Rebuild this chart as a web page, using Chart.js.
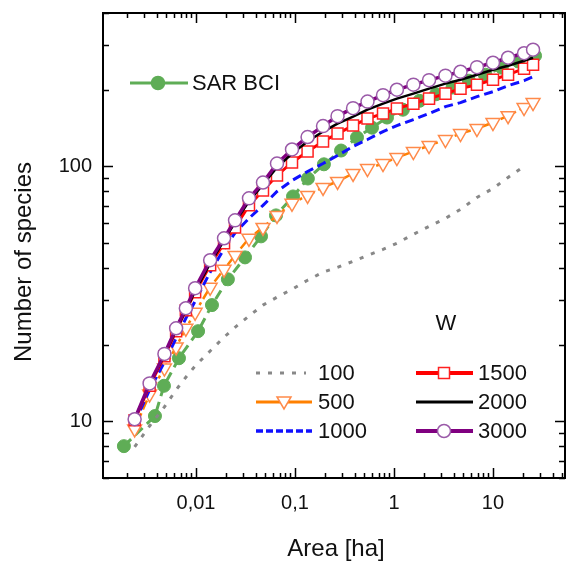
<!DOCTYPE html>
<html>
<head>
<meta charset="utf-8">
<script src="https://cdn.jsdelivr.net/npm/chart.js@4/dist/chart.umd.min.js"></script>
<style>
  html, body { margin: 0; padding: 0; background: #fff; }
  #wrap { width: 567px; height: 563px; }
</style>
</head>
<body>
<div id="wrap"><canvas id="sarChart" width="567" height="563"></canvas></div>
<script>
// plot areas (ha) shared by the model curves
const areaGrid = [0.0024, 0.0034, 0.0048, 0.0063, 0.0079, 0.0098, 0.0139, 0.0192, 0.0248, 0.0343,
                  0.0475, 0.0658, 0.0933, 0.134, 0.192, 0.269, 0.386, 0.54, 0.775, 1.07,
                  1.57, 2.26, 3.31, 4.7, 6.89, 10.0, 14.2, 20.6, 25.4];

// model curves, one per W value
const w100  = [7.95, 9.6, 11.4, 13.3, 14.9, 16.5, 18.9, 21.4, 23.4, 25.9, 28.6, 30.7, 33.0, 35.8, 38.5,
               40.2, 42.5, 44.8, 47.3, 50.0, 54.2, 58.2, 62.6, 67.9, 75.6, 82.0, 90.6, 100];
const w500  = [9.35, 12.8, 16.2, 19.6, 23.2, 26.8, 33.6, 39.5, 44.8, 52.3, 57.7, 64.3, 71.7, 77.0, 82.8,
               87.4, 93.9, 98.2, 102.7, 108.4, 114.5, 120.8, 127.6, 134.6, 140.8, 148.7, 158.3, 170.2, 178.1];
const w1000 = [9.87, 13.3, 17.1, 21.2, 25.4, 29.6, 38.5, 47.5, 54.9, 62.6, 70.4, 79.8, 88.1, 95.6, 102.7,
               110.4, 119.8, 127.6, 137.1, 144.7, 152.8, 161.3, 171.7, 178.1, 187.9, 196.6, 207.5, 217.1, 225.1];
const w1500 = [10.1, 13.8, 18.0, 22.6, 27.3, 32.1, 41.0, 50.0, 57.7, 70.4, 80.5, 92.2, 103.7, 114.5, 125.3,
               134.6, 144.7, 154.2, 161.3, 168.7, 176.4, 184.6, 193.1, 202.0, 209.4, 219.0, 229.1, 241.8, 250.8];
const w2000 = [10.2, 14.0, 18.2, 22.8, 27.3, 32.4, 41.7, 51.3, 60.4, 73.0, 85.0, 99.1, 112.4, 125.3, 137.1,
               147.3, 156.9, 167.2, 176.4, 184.6, 193.1, 202.0, 211.3, 219.0, 229.1, 239.7, 248.5, 260.0, 267.1];
const w3000 = [10.2, 14.1, 18.4, 23.2, 27.8, 33.3, 42.9, 52.3, 61.5, 75.0, 86.5, 102.7, 116.6, 130.5, 144,
               157.6, 169.4, 179.7, 190.5, 200.1, 209.4, 218.1, 227.1, 235.4, 245.2, 255.3, 267.1, 278.1, 287.1];

// observed species-area relation, BCI
const bciArea    = [0.00187, 0.00385, 0.00475, 0.00673, 0.0105, 0.0145, 0.021, 0.0313, 0.0454, 0.0643,
                    0.0955, 0.135, 0.196, 0.292, 0.423, 0.60, 0.85, 1.23, 1.81, 2.66,
                    3.9, 5.72, 8.4, 12.3, 18.1, 26.6];
const bciSpecies = [8.0, 10.5, 13.8, 17.7, 22.6, 28.6, 36.1, 44.0, 53.2, 64.3,
                    76.3, 89.7, 102, 115.5, 130, 142, 155.6, 167, 181, 192,
                    204, 217, 229, 244, 258, 272];

const xTickValues = [0.01, 0.1, 1, 10];
const yTickValues = [10, 100];

const FONT = '"Liberation Sans", Arial, sans-serif';

function pts(xs, ys) {
    return ys.map((y, i) => ({ x: xs[i], y: y }));
}

// small marker drawer for the hand made legend
function marker(ctx, style, x, y) {
    ctx.save();
    ctx.fillStyle = '#fff';
    ctx.lineWidth = 1.5;
    ctx.setLineDash([]);
    ctx.beginPath();
    if (style === 'circle') {
        ctx.strokeStyle = '#9a5aa8';
        ctx.arc(x, y, 6.5, 0, Math.PI * 2);
    } else if (style === 'rect') {
        ctx.strokeStyle = '#ff2020';
        ctx.rect(x - 5.5, y - 5.5, 11, 11);
    } else if (style === 'tri') {
        ctx.strokeStyle = '#ff8a4a';
        ctx.moveTo(x - 7, y - 5);
        ctx.lineTo(x + 7, y - 5);
        ctx.lineTo(x, y + 7);
        ctx.closePath();
    } else if (style === 'dot') {
        ctx.fillStyle = '#5fad56';
        ctx.strokeStyle = '#5fad56';
        ctx.arc(x, y, 6.5, 0, Math.PI * 2);
    }
    ctx.fill();
    ctx.stroke();
    ctx.restore();
}

function legendLine(ctx, x1, x2, y, color, width, dash) {
    ctx.save();
    ctx.strokeStyle = color;
    ctx.lineWidth = width;
    ctx.setLineDash(dash);
    ctx.beginPath();
    ctx.moveTo(x1, y);
    ctx.lineTo(x2, y);
    ctx.stroke();
    ctx.restore();
}

// frame with inward ticks on all four sides, axis titles and legend
const framePlugin = {
    id: 'frame',
    afterDraw(chart) {
        const ctx = chart.ctx;
        const a = chart.chartArea;
        const xs = chart.scales.x, ys = chart.scales.y;
        ctx.save();
        ctx.strokeStyle = '#000';
        ctx.lineWidth = 1.5;
        ctx.beginPath();
        for (let d = -3; d <= 1; d++) {
            for (let m = 1; m <= 9; m++) {
                const v = m * Math.pow(10, d);
                if (v < xs.min || v > xs.max) continue;
                const px = Math.round(xs.getPixelForValue(v)) + 0.5;
                const len = m === 1 ? 10 : 5;
                ctx.moveTo(px, a.bottom); ctx.lineTo(px, a.bottom - len);
                ctx.moveTo(px, a.top); ctx.lineTo(px, a.top + len);
            }
        }
        for (let d = 0; d <= 2; d++) {
            for (let m = 1; m <= 9; m++) {
                const v = m * Math.pow(10, d);
                if (v < ys.min || v > ys.max) continue;
                const py = Math.round(ys.getPixelForValue(v)) + 0.5;
                const len = m === 1 ? 10 : 6;
                ctx.moveTo(a.left, py); ctx.lineTo(a.left + len, py);
                ctx.moveTo(a.right, py); ctx.lineTo(a.right - len, py);
            }
        }
        ctx.stroke();
        ctx.lineWidth = 2;
        ctx.strokeRect(a.left, a.top, a.right - a.left, a.bottom - a.top);

        // axis titles
        ctx.fillStyle = '#111';
        ctx.font = '24px ' + FONT;
        ctx.textAlign = 'center';
        ctx.textBaseline = 'middle';
        ctx.fillText('Area [ha]', 336, 549);
        ctx.save();
        ctx.translate(24, 262);
        ctx.rotate(-Math.PI / 2);
        ctx.fillText('Number of species', 0, 0);
        ctx.restore();

        // legend: observed
        legendLine(ctx, 130, 188, 83, '#5fad56', 3, []);
        marker(ctx, 'dot', 158, 83);
        ctx.font = '22px ' + FONT;
        ctx.textAlign = 'left';
        ctx.fillStyle = '#111';
        ctx.fillText('SAR BCI', 192, 84);

        // legend: model
        ctx.textAlign = 'center';
        ctx.fillText('W', 446, 324);
        ctx.textAlign = 'left';
        const rows = [373, 402, 431];
        legendLine(ctx, 256, 306, rows[0], '#888', 3, [4, 8]);
        legendLine(ctx, 256, 312, rows[1], '#ff8000', 3, []);
        marker(ctx, 'tri', 284, rows[1]);
        legendLine(ctx, 256, 312, rows[2], '#1010ff', 3.5, [7, 3]);
        legendLine(ctx, 416, 473, rows[0], '#ff0000', 4, []);
        marker(ctx, 'rect', 444, rows[0]);
        legendLine(ctx, 416, 473, rows[1], '#000', 3, []);
        legendLine(ctx, 416, 473, rows[2], '#800080', 4, []);
        marker(ctx, 'circle', 444, rows[2]);
        ctx.fillStyle = '#111';
        ['100', '500', '1000'].forEach((t, i) => ctx.fillText(t, 318, rows[i] + 1));
        ['1500', '2000', '3000'].forEach((t, i) => ctx.fillText(t, 478, rows[i] + 1));
        ctx.restore();
    }
};

const ctx = document.getElementById('sarChart').getContext('2d');

const sarChart = new Chart(ctx, {
    type: 'line',
    data: {
        datasets: [
            {
                label: '3000', data: pts(areaGrid, w3000), order: 1,
                borderColor: '#800080', borderWidth: 3.5,
                pointStyle: 'circle', pointRadius: 6.5, pointBackgroundColor: '#fff',
                pointBorderColor: '#9a5aa8', pointBorderWidth: 1.5
            },
            {
                label: '2000', data: pts(areaGrid, w2000), order: 2,
                borderColor: '#000', borderWidth: 2.5, pointRadius: 0
            },
            {
                label: '1500', data: pts(areaGrid, w1500), order: 3,
                borderColor: '#ff0000', borderWidth: 3,
                pointStyle: 'rect', pointRadius: 7.8, pointBackgroundColor: '#fff',
                pointBorderColor: '#ff2020', pointBorderWidth: 1.5
            },
            {
                label: '1000', data: pts(areaGrid, w1000), order: 4,
                borderColor: '#1010ff', borderWidth: 3, borderDash: [9, 5], pointRadius: 0
            },
            {
                label: '500', data: pts(areaGrid, w500), order: 5,
                borderColor: '#ff8000', borderWidth: 2.5, borderDash: [10, 4, 3, 4],
                pointStyle: 'triangle', rotation: 180, pointRadius: 8, pointBackgroundColor: '#fff',
                pointBorderColor: '#ff8a4a', pointBorderWidth: 1.5
            },
            {
                label: '100', data: pts(areaGrid, w100), order: 6,
                borderColor: '#888', borderWidth: 3, borderDash: [4, 8], pointRadius: 0
            },
            {
                label: 'SAR BCI', data: pts(bciArea, bciSpecies), order: 7,
                borderColor: '#5fad56', borderWidth: 3, borderDash: [10, 6],
                pointStyle: 'circle', pointRadius: 6.5, pointBackgroundColor: '#5fad56',
                pointBorderColor: '#5fad56', pointBorderWidth: 1
            }
        ]
    },
    options: {
        responsive: false,
        animation: false,
        layout: { autoPadding: false, padding: { top: 13, right: 2, left: 0, bottom: 0 } },
        plugins: { legend: { display: false }, tooltip: { enabled: false } },
        scales: {
            x: {
                type: 'logarithmic', min: 0.00115, max: 53.4, bounds: 'data',
                grid: { display: false, drawTicks: false },
                border: { display: false },
                afterBuildTicks: s => { s.ticks = xTickValues.map(v => ({ value: v })); },
                afterFit: s => { s.height = 85; s.paddingLeft = 0; s.paddingRight = 0; },
                ticks: {
                    autoSkip: false, maxRotation: 0, padding: 13, color: '#111',
                    font: { size: 20, family: FONT },
                    callback: v => String(v).replace('.', ',')
                }
            },
            y: {
                type: 'logarithmic', min: 6, max: 400, bounds: 'data',
                grid: { display: false, drawTicks: false },
                border: { display: false },
                afterBuildTicks: s => { s.ticks = yTickValues.map(v => ({ value: v })); },
                afterFit: s => { s.width = 103; s.paddingTop = 0; s.paddingBottom = 0; },
                ticks: {
                    autoSkip: false, padding: 11, color: '#111',
                    font: { size: 20, family: FONT },
                    callback: v => String(v)
                }
            }
        }
    },
    plugins: [framePlugin]
});
</script>
</body>
</html>
